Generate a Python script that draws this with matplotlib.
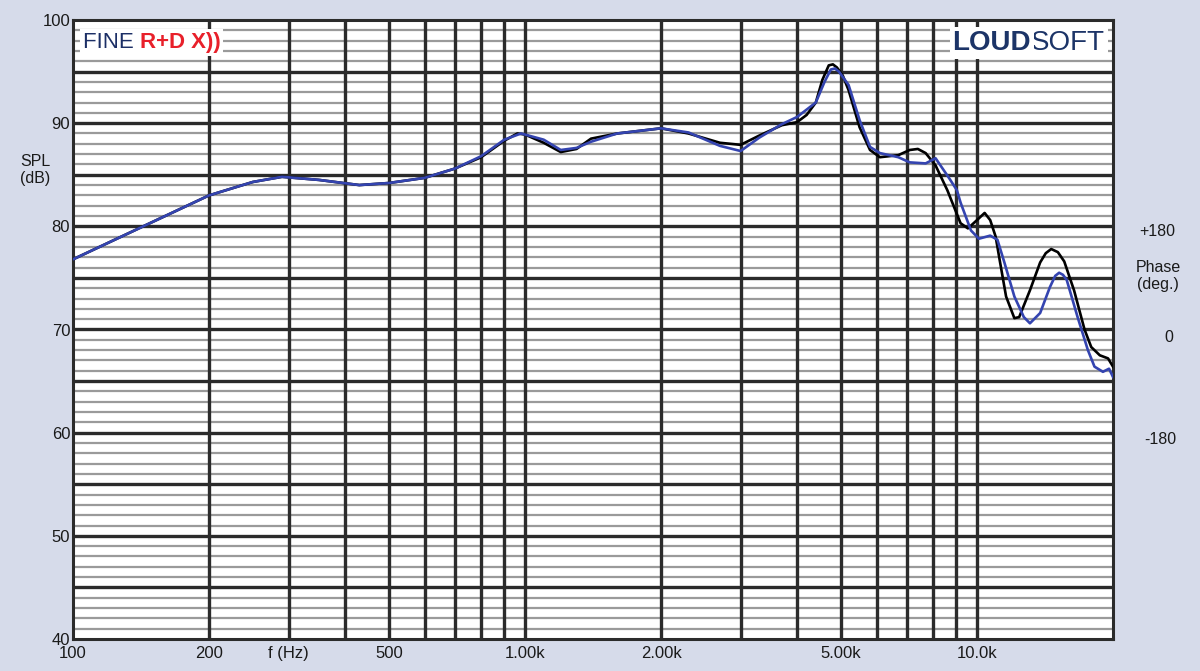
import numpy as np
from matplotlib import pyplot as plt
from matplotlib.ticker import FixedLocator, NullFormatter

plt.rcParams['font.family'] = ['Liberation Sans', 'DejaVu Sans']

# 频响曲线（黑色：测量1，蓝色：测量2）
freq_black = [100, 143, 200, 250, 290, 350, 430, 500, 600, 700, 800, 900, 962, 1000,
              1100, 1200, 1300, 1400, 1600, 2000, 2300, 2700, 3000, 3300, 3700, 4000,
              4200, 4400, 4550, 4700, 4800, 4900, 5050, 5200, 5500, 5800, 6100, 6700,
              7100, 7400, 7700, 8100, 8600, 9200, 9550, 10000, 10400, 10700, 11000,
              11200, 11600, 12100, 12400, 13100, 13800, 14200, 14600, 15100, 15600,
              16400, 17300, 17900, 18700, 19500, 20000]
spl_black = [76.8, 80.0, 83.0, 84.3, 84.8, 84.5, 84.0, 84.2, 84.7, 85.6, 86.7, 88.3, 89.0, 88.9,
             88.1, 87.2, 87.5, 88.5, 89.0, 89.5, 89.0, 88.1, 87.9, 88.8, 89.8, 90.1,
             90.8, 92.0, 94.2, 95.6, 95.7, 95.4, 94.6, 93.2, 89.6, 87.4, 86.7, 86.9,
             87.4, 87.5, 87.1, 85.9, 83.5, 80.3, 79.8, 80.6, 81.3, 80.6, 79.0,
             77.0, 73.2, 71.1, 71.2, 73.8, 76.5, 77.4, 77.8, 77.5, 76.6,
             73.8, 70.0, 68.3, 67.5, 67.2, 66.4]

freq_blue = [100, 143, 200, 250, 290, 350, 430, 500, 600, 700, 800, 900, 980, 1100,
             1200, 1300, 1400, 1600, 2000, 2300, 2700, 3000, 3300, 3700, 4000, 4400,
             4600, 4750, 4850, 4950, 5200, 5500, 5800, 6100, 6700, 7100, 7700, 8100,
             8700, 9030, 9200, 9700, 10100, 10700, 11100, 11500, 12100, 12700, 13100,
             13800, 14500, 14900, 15200, 15500, 15800, 16700, 17600, 18200, 19000,
             19600, 20000]
spl_blue = [76.8, 80.0, 83.0, 84.3, 84.8, 84.5, 84.0, 84.2, 84.7, 85.6, 86.8, 88.4, 89.0, 88.4,
            87.4, 87.6, 88.2, 89.0, 89.5, 89.1, 87.8, 87.3, 88.6, 89.9, 90.6, 92.0,
            94.0, 95.2, 95.3, 95.0, 93.7, 90.3, 87.7, 87.1, 86.7, 86.2, 86.1, 86.6,
            84.6, 83.5, 82.3, 79.6, 78.8, 79.1, 78.7, 76.5, 73.2, 71.2, 70.6,
            71.6, 74.1, 75.2, 75.5, 75.3, 74.8, 71.2, 68.0, 66.4, 65.9,
            66.2, 65.4]

xgrid = [200, 300, 400, 500, 600, 700, 800, 900, 1000, 2000, 3000, 4000, 5000,
         6000, 7000, 8000, 9000, 10000]
xtick_pos = [100, 200, 300, 500, 1000, 2000, 5000, 10000]
xtick_lab = ['100', '200', 'f (Hz)', '500', '1.00k', '2.00k', '5.00k', '10.0k']
ytick_pos = [40, 50, 60, 70, 80, 90, 100]

bg = '#d6dbea'
fig = plt.figure(figsize=(12, 6.71), dpi=100, facecolor=bg)
ax = fig.add_axes([73 / 1200, 1 - 639 / 671, 1040 / 1200, 619 / 671])
ax.set_facecolor('white')
ax.set_xscale('log')
ax.set_xlim(100, 20000)
ax.set_ylim(40, 100)

# 网格：1dB细灰线，5dB粗黑线，竖线全为粗黑线
for v in range(41, 100):
    if v % 5 == 0:
        ax.axhline(v, color='#2b2b2b', lw=2.4, zorder=1)
    else:
        ax.axhline(v, color='#9a9a9a', lw=1.6, zorder=1)
for f in xgrid:
    ax.axvline(f, color='#2b2b2b', lw=2.4, zorder=1)

ax.plot(freq_black, spl_black, color='black', lw=1.9, zorder=3)
ax.plot(freq_blue, spl_blue, color='#3444b0', lw=1.9, zorder=4)

for s in ax.spines.values():
    s.set_color('#2b2b2b')
    s.set_linewidth(2.2)

ax.xaxis.set_major_locator(FixedLocator(xtick_pos))
ax.set_xticklabels(xtick_lab)
ax.xaxis.set_minor_locator(FixedLocator([]))
ax.xaxis.set_minor_formatter(NullFormatter())
ax.set_yticks(ytick_pos)
ax.tick_params(length=0, labelsize=12, colors='#1a1a1a', pad=5)
ax.tick_params(axis='y', pad=2)

fig.text(35 / 1200, 1 - 170 / 671, 'SPL\n(dB)', ha='center', va='center',
         fontsize=11.5, color='#1a1a1a', linespacing=1.1)
fig.text(1157 / 1200, 1 - 232 / 671, '+180', ha='center', va='center', fontsize=11.5, color='#1a1a1a')
fig.text(1158 / 1200, 1 - 276 / 671, 'Phase\n(deg.)', ha='center', va='center',
         fontsize=11.5, color='#1a1a1a', linespacing=1.1)
fig.text(1169 / 1200, 1 - 338 / 671, '0', ha='center', va='center', fontsize=11.5, color='#1a1a1a')
fig.text(1160 / 1200, 1 - 440 / 671, '-180', ha='center', va='center', fontsize=11.5, color='#1a1a1a')

# 标志文字
t1 = ax.text(10 / 1040, 1 - 28 / 619, 'FINE ', transform=ax.transAxes, fontsize=16,
             color='#1c2f66', ha='left', va='baseline', zorder=5,
             bbox=dict(facecolor='white', edgecolor='none', pad=2))
ax.annotate('R+D X))', xy=(1, 0), xycoords=t1, fontsize=16, fontweight='bold',
            color='#e8202a', ha='left', va='bottom', zorder=5,
            bbox=dict(facecolor='white', edgecolor='none', pad=2))

t2 = ax.text(1 - 8 / 1040, 1 - 30 / 619, 'SOFT', transform=ax.transAxes, fontsize=20,
             color='#1c3467', ha='right', va='baseline', zorder=5,
             bbox=dict(facecolor='white', edgecolor='none', pad=2))
ax.annotate('LOUD', xy=(0, 0), xycoords=t2, fontsize=20, fontweight='bold',
            color='#1c3467', ha='right', va='bottom', zorder=5,
            bbox=dict(facecolor='white', edgecolor='none', pad=2))

fig.savefig('out.png', dpi=100, facecolor=bg)
